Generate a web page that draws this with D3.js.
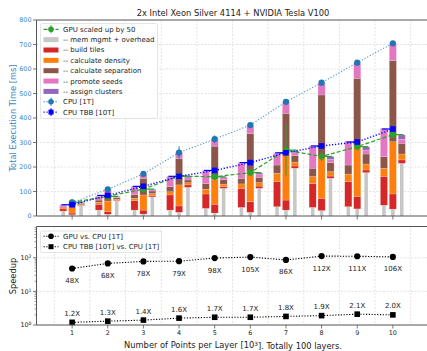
<!DOCTYPE html>
<html><head><meta charset="utf-8">
<script src="https://cdn.jsdelivr.net/npm/d3@7"></script>
<style>body{margin:0;background:#fff}svg{display:block;font-family:"DejaVu Sans",sans-serif}</style>
</head><body><svg id="c" width="427" height="351"></svg>
<script>
// ---------- data ----------
const points = [1,2,3,4,5,6,7,8,9,10];
const components = ["-- mem mgmt + overhead","-- build tiles","-- calculate density","-- calculate separation","-- promote seeds","-- assign clusters"];
const compColors = ["#c7c7c7","#d62728","#ff7f0e","#8c564b","#e377c2","#9467bd"];
// CPU TBB [10T] breakdown (left bars), ms
const tbbMem     = [20,24,24,24,31,35,38,35,38,44];
const tbbTiles   = [9,24,39,62,59,78,102,98,102,117];
const tbbDensity = [5,8,9,13,19,18,34,28,31,34];
const tbbSep     = [3,9,16,21,24,23,34,34,37,47];
const tbbSeeds   = [8,15,31,40,51,62,47,88,94,113];
const tbbAssign  = [1,2,2,2,2,2,3,3,3,3];
// CPU [1T] breakdown (centre bars), ms
const cpuMem     = [5,7,8,15,12,15,24,22,29,28];
const cpuTiles   = [7,11,16,26,36,43,41,50,50,62];
const cpuDensity = [26,43,62,86,102,123,191,170,211,213];
const cpuSep     = [11,27,68,108,135,156,163,252,272,331];
const cpuSeeds   = [5,19,16,22,27,32,45,48,62,69];
const cpuAssign  = [1,2,2,2,2,2,2,2,2,2];
// GPU breakdown scaled up by 50 (right bars), ms
const gpuMem     = [41,61,78,117,113,113,195,154,177,215];
const gpuTiles   = [2,3,6,10,7,9,9,9,11,14];
const gpuDensity = [3,4,8,9,10,14,16,18,24,24];
const gpuSep     = [3,6,10,11,18,22,27,37,41,44];
const gpuSeeds   = [4,4,6,9,8,13,11,13,16,16];
const gpuAssign  = [3,2,2,7,4,6,8,11,14,18];
// totals
const cpu1T    = [55,109,172,259,314,371,466,544,626,705];
const cpu1TErr = [5,6,8,25,15,12,4,4,4,4];
const cpuTBB   = [46,84,121,162,186,218,258,286,302,355];
const tbbErr   = [2,2,3,3,3,3,3,4,4,4];
const gpu50    = [56,80,110,163,160,177,269,243,283,332];
const gpu50Err = [3,3,4,5,8,5,105,18,15,8];
// speedups
const gpuSpeedup = [48,68,78,79,98,105,86,112,111,106];
const tbbSpeedup = [1.2,1.3,1.4,1.6,1.7,1.7,1.8,1.9,2.1,2.0];
const timeTicks = [0,100,200,300,400,500,600,700,800];

// ---------- chart ----------
const svg = d3.select("#c");
const x = d3.scaleLinear().domain([0,11]).range([36.5,428.5]);
const y = d3.scaleLinear().domain([0,800]).range([216,20]);
const yl = d3.scaleLog().domain([1,Math.pow(10,2.93)]).range([325,226.5]);
const ux = x(1)-x(0);
const spine = "#555";
const blueLbl = "#3a87c4";
const LBL = 8.3;

// grids
function grid(top,bottom){
  const g = svg.append("g");
  d3.range(0.5,11,1).forEach(v=>g.append("line").attr("x1",x(v)).attr("x2",x(v)).attr("y1",top).attr("y2",bottom)
    .attr("stroke","#dcdcdc").attr("stroke-width",0.8).attr("stroke-dasharray","2,1.5"));
  return g;
}
const g1 = grid(20,216);
timeTicks.slice(1,-1).forEach(v=>g1.append("line").attr("x1",x(0)).attr("x2",x(11)).attr("y1",y(v)).attr("y2",y(v))
  .attr("stroke","#dcdcdc").attr("stroke-width",0.8).attr("stroke-dasharray","2,1.5"));
const g2 = grid(226.5,325);
[10,100].forEach(v=>g2.append("line").attr("x1",x(0)).attr("x2",x(11)).attr("y1",yl(v)).attr("y2",yl(v))
  .attr("stroke","#dcdcdc").attr("stroke-width",0.8).attr("stroke-dasharray","2,1.5"));

// stacked bars
const stacks = [
  {off:-0.25, parts:[tbbMem,tbbTiles,tbbDensity,tbbSep,tbbSeeds,tbbAssign]},
  {off:0,     parts:[cpuMem,cpuTiles,cpuDensity,cpuSep,cpuSeeds,cpuAssign]},
  {off:0.25,  parts:[gpuMem,gpuTiles,gpuDensity,gpuSep,gpuSeeds,gpuAssign]}
];
const barG = svg.append("g");
stacks.forEach(s=>{
  points.forEach((p,i)=>{
    let base = 0;
    s.parts.forEach((arr,k)=>{
      const v = arr[i];
      const w = (k===0?0.1:0.2)*ux;
      barG.append("rect").attr("x",x(p+s.off)-w/2).attr("width",w)
        .attr("y",y(base+v)).attr("height",y(base)-y(base+v))
        .attr("fill",compColors[k]).attr("stroke",k===0?"none":"#fff").attr("stroke-opacity",0.35).attr("stroke-width",0.5);
      base += v;
    });
  });
});

// lines + markers
const lineG = svg.append("g");
const mk = d3.line().x((d,i)=>x(points[i])).y(d=>y(d));
// GPU
lineG.append("path").attr("d",mk(gpu50)).attr("fill","none").attr("stroke","#2ca02c").attr("stroke-width",1.2).attr("stroke-dasharray","4,2");
points.forEach((p,i)=>{
  lineG.append("line").attr("x1",x(p)).attr("x2",x(p+0.3)).attr("y1",y(gpu50[i])).attr("y2",y(gpu50[i])).attr("stroke","#2ca02c").attr("stroke-width",1.2);
  lineG.append("line").attr("x1",x(p)).attr("x2",x(p)).attr("y1",y(gpu50[i]-gpu50Err[i])).attr("y2",y(gpu50[i]+gpu50Err[i])).attr("stroke","#2ca02c").attr("stroke-width",1);
  lineG.append("circle").attr("cx",x(p)).attr("cy",y(gpu50[i])).attr("r",3.1).attr("fill","#2ca02c");
});
// CPU 1T
lineG.append("path").attr("d",mk(cpu1T)).attr("fill","none").attr("stroke","#1f77b4").attr("stroke-opacity",0.75).attr("stroke-width",1.1).attr("stroke-dasharray","1.2,1.8");
points.forEach((p,i)=>{
  lineG.append("line").attr("x1",x(p)).attr("x2",x(p)).attr("y1",y(cpu1T[i]-cpu1TErr[i])).attr("y2",y(cpu1T[i]+cpu1TErr[i])).attr("stroke","#1f77b4").attr("stroke-width",1);
  lineG.append("circle").attr("cx",x(p)).attr("cy",y(cpu1T[i])).attr("r",3.1).attr("fill","#1f77b4");
});
// CPU TBB
lineG.append("path").attr("d",mk(cpuTBB)).attr("fill","none").attr("stroke","#0000ff").attr("stroke-width",1.4).attr("stroke-dasharray","1.2,1.8");
points.forEach((p,i)=>{
  lineG.append("line").attr("x1",x(p-0.3)).attr("x2",x(p)).attr("y1",y(cpuTBB[i])).attr("y2",y(cpuTBB[i])).attr("stroke","#0000ff").attr("stroke-width",1.2);
  lineG.append("line").attr("x1",x(p)).attr("x2",x(p)).attr("y1",y(cpuTBB[i]-tbbErr[i])).attr("y2",y(cpuTBB[i]+tbbErr[i])).attr("stroke","#0000ff").attr("stroke-width",1);
  lineG.append("rect").attr("x",x(p)-2.8).attr("y",y(cpuTBB[i])-2.8).attr("width",5.6).attr("height",5.6).attr("fill","#0000ff");
});

// axes top
const ax1 = svg.append("g");
ax1.append("line").attr("x1",x(0)).attr("x2",x(0)).attr("y1",20).attr("y2",216).attr("stroke",spine);
ax1.append("line").attr("x1",x(0)).attr("x2",x(11)).attr("y1",20).attr("y2",20).attr("stroke",spine);
ax1.append("line").attr("x1",x(0)).attr("x2",x(11)).attr("y1",216).attr("y2",216).attr("stroke",spine).attr("stroke-width",1.2);
timeTicks.forEach(v=>{
  ax1.append("line").attr("x1",x(0)-3.5).attr("x2",x(0)).attr("y1",y(v)).attr("y2",y(v)).attr("stroke",spine).attr("stroke-width",0.8);
  ax1.append("text").attr("x",x(0)-5).attr("y",y(v)).attr("dy","0.35em").attr("text-anchor","end")
    .attr("font-size",6.4).attr("fill",blueLbl).text(v);
});
points.forEach(p=>ax1.append("line").attr("x1",x(p)).attr("x2",x(p)).attr("y1",216).attr("y2",219.5).attr("stroke",spine).attr("stroke-width",0.8));
svg.append("text").attr("transform","translate(13,118) rotate(-90)").attr("dy","0.35em").attr("text-anchor","middle")
  .attr("font-size",LBL).attr("fill",blueLbl).text("Total Execution Time [ms]");
svg.append("text").attr("x",233).attr("y",13.5).attr("dy","0.35em").attr("text-anchor","middle").attr("font-size",LBL).attr("fill","#222")
  .text("2x Intel Xeon Silver 4114 + NVIDIA Tesla V100");

// legend top
const lg = svg.append("g");
lg.append("rect").attr("x",40.5).attr("y",23.5).attr("width",117).attr("height",95).attr("rx",2)
  .attr("fill","#fff").attr("fill-opacity",0.85).attr("stroke","#ddd").attr("stroke-width",0.8);
const legItems = [{t:"GPU scaled up by 50",type:"err",c:"#2ca02c",m:"circle",dash:"4,2"}]
  .concat(components.map((t,k)=>({t,type:"patch",c:compColors[k]})))
  .concat([{t:"CPU [1T]",type:"err",c:"#1f77b4",m:"circle",dash:"1.2,1.8"},{t:"CPU TBB [10T]",type:"err",c:"#0000ff",m:"square",dash:"1.2,1.8"}]);
legItems.forEach((d,i)=>{
  const cy = 29.3 + i*10.35;
  if(d.type==="patch"){
    lg.append("rect").attr("x",43.5).attr("y",cy-2.5).attr("width",15).attr("height",5).attr("fill",d.c);
  } else {
    lg.append("line").attr("x1",43.5).attr("x2",58.5).attr("y1",cy).attr("y2",cy).attr("stroke",d.c).attr("stroke-width",1.2).attr("stroke-dasharray",d.dash);
    lg.append("line").attr("x1",51).attr("x2",51).attr("y1",cy-4).attr("y2",cy+4).attr("stroke",d.c).attr("stroke-width",1);
    if(d.m==="circle") lg.append("circle").attr("cx",51).attr("cy",cy).attr("r",2.8).attr("fill",d.c);
    else lg.append("rect").attr("x",48.5).attr("y",cy-2.5).attr("width",5).attr("height",5).attr("fill",d.c);
  }
  lg.append("text").attr("x",63).attr("y",cy).attr("dy","0.35em").attr("font-size",7).attr("fill","#222").text(d.t);
});

// ---------- lower chart ----------
const low = svg.append("g");
const lmk = d3.line().x((d,i)=>x(points[i])).y(d=>yl(d));
low.append("path").attr("d",lmk(gpuSpeedup)).attr("fill","none").attr("stroke","#000").attr("stroke-width",1.1).attr("stroke-dasharray","1.2,1.6");
low.append("path").attr("d",lmk(tbbSpeedup)).attr("fill","none").attr("stroke","#000").attr("stroke-width",1.1).attr("stroke-dasharray","1.2,1.6");
points.forEach((p,i)=>{
  low.append("circle").attr("cx",x(p)).attr("cy",yl(gpuSpeedup[i])).attr("r",3.1).attr("fill","#000");
  low.append("text").attr("x",x(p)).attr("y",yl(gpuSpeedup[i])+12).attr("dy","0.35em").attr("text-anchor","middle").attr("font-size",7).attr("fill","#222").text(gpuSpeedup[i]+"X");
  low.append("rect").attr("x",x(p)-2.8).attr("y",yl(tbbSpeedup[i])-2.8).attr("width",5.6).attr("height",5.6).attr("fill","#000");
  low.append("text").attr("x",x(p)).attr("y",yl(tbbSpeedup[i])-9).attr("dy","0.35em").attr("text-anchor","middle").attr("font-size",7).attr("fill","#222").text(tbbSpeedup[i].toFixed(1)+"X");
});
low.append("line").attr("x1",x(0)).attr("x2",x(0)).attr("y1",226.5).attr("y2",325).attr("stroke",spine);
low.append("line").attr("x1",x(0)).attr("x2",x(11)).attr("y1",226.5).attr("y2",226.5).attr("stroke",spine);
low.append("line").attr("x1",x(0)).attr("x2",x(11)).attr("y1",325).attr("y2",325).attr("stroke",spine);
[1,10,100].forEach((v,k)=>{
  low.append("line").attr("x1",x(0)-3.5).attr("x2",x(0)).attr("y1",yl(v)).attr("y2",yl(v)).attr("stroke",spine).attr("stroke-width",0.8);
  const t = low.append("text").attr("x",x(0)-5).attr("y",yl(v)).attr("dy","0.35em").attr("text-anchor","end").attr("font-size",6.4).attr("fill","#222");
  t.append("tspan").text("10");
  t.append("tspan").attr("dy","-0.45em").attr("font-size",4.6).text(k);
});
[1,10,100].forEach(b=>d3.range(2,10).forEach(m=>{
  const v=b*m; if(v>Math.pow(10,2.93)) return;
  low.append("line").attr("x1",x(0)-2).attr("x2",x(0)).attr("y1",yl(v)).attr("y2",yl(v)).attr("stroke",spine).attr("stroke-width",0.6);
}));
points.forEach(p=>{
  low.append("line").attr("x1",x(p)).attr("x2",x(p)).attr("y1",325).attr("y2",328.5).attr("stroke",spine).attr("stroke-width",0.8);
  low.append("text").attr("x",x(p)).attr("y",333).attr("dy","0.35em").attr("text-anchor","middle").attr("font-size",6.4).attr("fill","#222").text(p);
});
svg.append("text").attr("transform","translate(13,276) rotate(-90)").attr("dy","0.35em").attr("text-anchor","middle").attr("font-size",LBL).attr("fill","#222").text("Speedup");
const xl = svg.append("text").attr("x",233).attr("y",345).attr("dy","0.35em").attr("text-anchor","middle").attr("font-size",LBL).attr("fill","#222");
xl.append("tspan").text("Number of Points per Layer [10");
xl.append("tspan").attr("dy","-0.4em").attr("font-size",5.8).text("3");
xl.append("tspan").attr("dy","0.4em").text("]. Totally 100 layers.");

// lower legend
const lg2 = svg.append("g");
lg2.append("rect").attr("x",40.5).attr("y",231).attr("width",121).attr("height",21.5).attr("rx",2)
  .attr("fill","#fff").attr("fill-opacity",0.85).attr("stroke","#ddd").attr("stroke-width",0.8);
[{t:"GPU vs. CPU [1T]",m:"circle"},{t:"CPU TBB [10T] vs. CPU [1T]",m:"square"}].forEach((d,i)=>{
  const cy = 236.3 + i*10.4;
  lg2.append("line").attr("x1",43.5).attr("x2",58.5).attr("y1",cy).attr("y2",cy).attr("stroke","#000").attr("stroke-width",1.1).attr("stroke-dasharray","1.2,1.6");
  if(d.m==="circle") lg2.append("circle").attr("cx",51).attr("cy",cy).attr("r",2.8).attr("fill","#000");
  else lg2.append("rect").attr("x",48.5).attr("y",cy-2.5).attr("width",5).attr("height",5).attr("fill","#000");
  lg2.append("text").attr("x",63).attr("y",cy).attr("dy","0.35em").attr("font-size",7).attr("fill","#222").text(d.t);
});
</script></body></html>
